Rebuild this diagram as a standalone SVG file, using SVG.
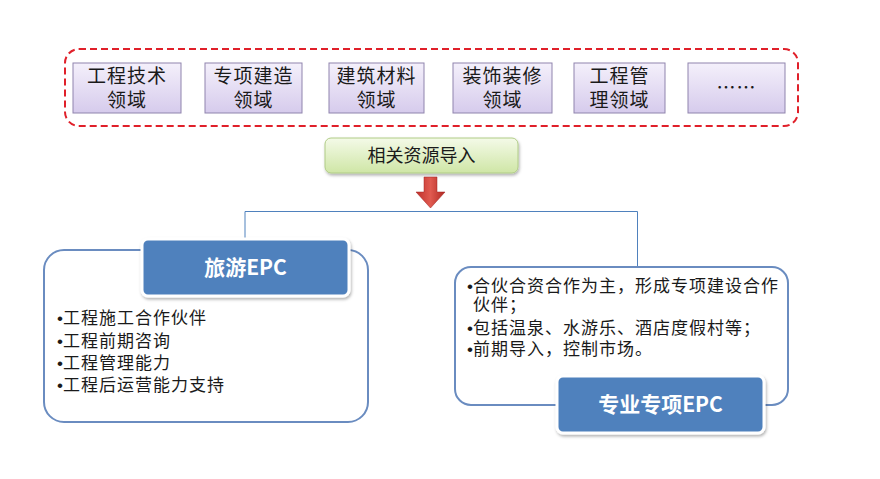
<svg xmlns="http://www.w3.org/2000/svg" width="880" height="479" viewBox="0 0 880 479">
<defs>
<linearGradient id="lav" x1="0" y1="0" x2="0" y2="1">
<stop offset="0" stop-color="#f4f0fb"/>
<stop offset="1" stop-color="#d6cbec"/>
</linearGradient>
<linearGradient id="grn" x1="0" y1="0" x2="0" y2="1">
<stop offset="0" stop-color="#f4fae8"/>
<stop offset="1" stop-color="#cfe6a6"/>
</linearGradient>
<linearGradient id="red" x1="0" y1="0" x2="1" y2="0">
<stop offset="0" stop-color="#c0302a"/>
<stop offset="0.5" stop-color="#e05a50"/>
<stop offset="1" stop-color="#b02822"/>
</linearGradient>
<filter id="sh" x="-10%" y="-10%" width="130%" height="140%">
<feDropShadow dx="1" dy="2" stdDeviation="1.5" flood-color="#000" flood-opacity="0.3"/>
</filter>
</defs>
<style>
.t{font-family:"Microsoft YaHei","Noto Sans CJK SC",sans-serif;fill:#1a1a1a}
.dom rect{fill:url(#lav);stroke:#8f84ad;stroke-width:1}
.dom text{font-size:19px;letter-spacing:1px;text-anchor:middle}
.big{fill:#fff;stroke:#6a8cc0;stroke-width:2}
.hdr{fill:#4f81bd;stroke:#fff;stroke-width:3}
.ht{font-family:"Microsoft YaHei","Noto Sans CJK SC",sans-serif;font-weight:bold;font-size:21px;fill:#fff;text-anchor:middle}
.b{font-size:17px;letter-spacing:1px}
.bu{font-family:"Liberation Sans",sans-serif;letter-spacing:0}
.con{stroke:#4f81bd;stroke-width:1;fill:none}
</style>
<rect x="65" y="49" width="733" height="77" rx="14" fill="none" stroke="#e0202a" stroke-width="2" stroke-dasharray="7,4"/>
<g class="dom">
<g id="d1"><rect x="73" y="63" width="108" height="50"/><text class="t" x="127" y="83">工程技术</text><text class="t" x="127" y="107">领域</text></g>
<g id="d2"><rect x="205" y="63" width="97" height="50"/><text class="t" x="253.5" y="83">专项建造</text><text class="t" x="253.5" y="107">领域</text></g>
<g id="d3"><rect x="329" y="63" width="95" height="50"/><text class="t" x="376.5" y="83">建筑材料</text><text class="t" x="376.5" y="107">领域</text></g>
<g id="d4"><rect x="453" y="63" width="99" height="50"/><text class="t" x="502.5" y="83">装饰装修</text><text class="t" x="502.5" y="107">领域</text></g>
<g id="d5"><rect x="574" y="63" width="91" height="50"/><text class="t" x="619.5" y="83">工程管</text><text class="t" x="619.5" y="107">理领域</text></g>
<g id="d6"><rect x="688" y="63" width="97" height="50"/><text class="t" x="736.5" y="95">……</text></g>
</g>
<g id="import">
<rect x="325" y="138" width="193" height="35" rx="6" fill="url(#grn)" stroke="#b0cc86" stroke-width="1" filter="url(#sh)"/>
<text class="t" x="421.5" y="162" font-size="18" text-anchor="middle">相关资源导入</text>
</g>
<g id="connectors">
<polygon points="424,177 437,177 437,192 445,192 430.5,208 416,192 424,192" fill="url(#red)" stroke="#a02020" stroke-width="0.5"/>
<path class="con" d="M245,240 V211.5 H637.5 V267"/>
</g>
<g id="tourism">
<rect class="big" x="44" y="250" width="324" height="172" rx="20"/>
<rect class="hdr" x="142" y="239" width="207" height="57" rx="6" filter="url(#sh)"/>
<text class="ht" x="245.5" y="275">旅游EPC</text>
<text class="t b" x="57" y="324"><tspan class="bu">•</tspan>工程施工合作伙伴</text>
<text class="t b" x="57" y="347"><tspan class="bu">•</tspan>工程前期咨询</text>
<text class="t b" x="57" y="369"><tspan class="bu">•</tspan>工程管理能力</text>
<text class="t b" x="57" y="391"><tspan class="bu">•</tspan>工程后运营能力支持</text>
</g>
<g id="special">
<rect class="big" x="455" y="267" width="333" height="138" rx="16"/>
<rect class="hdr" x="557" y="376" width="207" height="57" rx="6" filter="url(#sh)"/>
<text class="ht" x="660.5" y="412">专业专项EPC</text>
<text class="t b" x="467" y="292"><tspan class="bu">•</tspan>合伙合资合作为主，形成专项建设合作</text>
<text class="t b" x="473" y="311">伙伴；</text>
<text class="t b" x="467" y="334"><tspan class="bu">•</tspan>包括温泉、水游乐、酒店度假村等；</text>
<text class="t b" x="467" y="355"><tspan class="bu">•</tspan>前期导入，控制市场。</text>
</g>
</svg>
